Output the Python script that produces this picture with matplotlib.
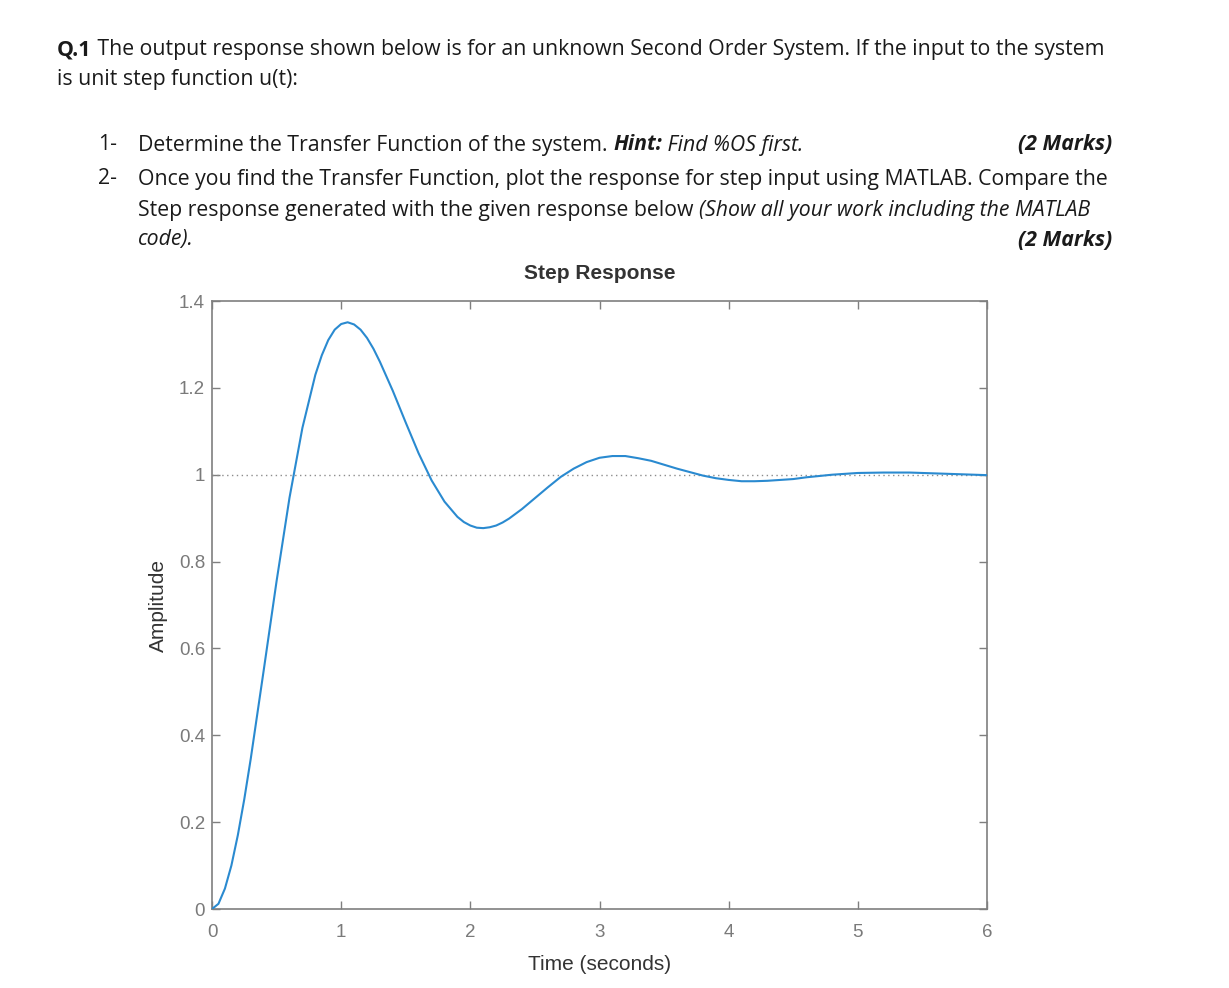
import matplotlib.pyplot as plt

# -----------------------------
# Data
# -----------------------------
time_s = [0.0, 0.05, 0.1, 0.15, 0.2, 0.25, 0.3, 0.4, 0.5, 0.6, 0.7, 0.8, 0.85, 0.9, 0.95,
          1.0, 1.05, 1.1, 1.15, 1.2, 1.25, 1.3, 1.4, 1.5, 1.6, 1.7, 1.8, 1.9, 1.95,
          2.0, 2.05, 2.1, 2.15, 2.2, 2.25, 2.3, 2.4, 2.5, 2.6, 2.7, 2.8, 2.9,
          3.0, 3.05, 3.1, 3.15, 3.2, 3.3, 3.4, 3.5, 3.6, 3.7, 3.8, 3.9,
          4.0, 4.1, 4.2, 4.3, 4.4, 4.5, 4.6, 4.7, 4.8, 4.9,
          5.0, 5.2, 5.4, 5.6, 5.8, 6.0]
amplitude = [0.000, 0.012, 0.047, 0.100, 0.170, 0.253, 0.346, 0.549, 0.755, 0.947, 1.108,
             1.230, 1.275, 1.310, 1.334,
             1.347, 1.351, 1.346, 1.334, 1.315, 1.290, 1.260, 1.193, 1.120, 1.049, 0.987,
             0.938, 0.903, 0.891,
             0.883, 0.878, 0.877, 0.879, 0.883, 0.890, 0.899, 0.921, 0.946, 0.971, 0.995,
             1.014, 1.029,
             1.039, 1.041, 1.043, 1.043, 1.043, 1.038, 1.032, 1.023, 1.014, 1.006, 0.998,
             0.992,
             0.988, 0.985, 0.985, 0.986, 0.988, 0.990, 0.994, 0.997, 1.000, 1.002,
             1.004, 1.005, 1.005, 1.003, 1.001, 0.999]
steady_state = 1.0

x_ticks = [0, 1, 2, 3, 4, 5, 6]
y_ticks = [0, 0.2, 0.4, 0.6, 0.8, 1.0, 1.2, 1.4]
y_tick_labels = ["0", "0.2", "0.4", "0.6", "0.8", "1", "1.2", "1.4"]

# -----------------------------
# Figure and question text
# -----------------------------
fig = plt.figure(figsize=(12.29, 9.88), dpi=100)
W, H = 1229, 988
renderer = fig.canvas.get_renderer()
FS = 15.3
INK = "#1a1a1a"

def fx(px):
    return px / W

def fy(py):
    return 1 - py / H

def runs(x_px, y_px, parts):
    # write text pieces one after another on one line
    x = x_px
    for txt, weight, style in parts:
        t = fig.text(fx(x), fy(y_px), txt, family="Open Sans", fontsize=FS,
                     weight=weight, style=style, color=INK, va="center")
        x = t.get_window_extent(renderer).x1

def right(x_px, y_px, txt, weight="normal", style="normal"):
    fig.text(fx(x_px), fy(y_px), txt, family="Open Sans", fontsize=FS, weight=weight,
             style=style, color=INK, va="center", ha="right")

N, B, I = "normal", "bold", "italic"
runs(57, 50, [("Q.1", B, N),
              (" The output response shown below is for an unknown Second Order System. "
               "If the input to the system", N, N)])
runs(57, 80, [("is unit step function u(t):", N, N)])

runs(98, 145, [("1-", N, N)])
runs(98, 179, [("2-", N, N)])
runs(138, 145, [("Determine the Transfer Function of the system. ", N, N),
                ("Hint:", B, I), (" Find %OS first.", N, I)])
right(1112, 145, "(2 Marks)", B, I)
runs(138, 179, [("Once you find the Transfer Function, plot the response for step input "
                 "using MATLAB. Compare the", N, N)])
runs(138, 210, [("Step response generated with the given response below ", N, N),
                ("(Show all your work including the MATLAB", N, I)])
runs(138, 240, [("code).", N, I)])
right(1112, 240, "(2 Marks)", B, I)

# -----------------------------
# Step response axes (MATLAB look)
# -----------------------------
ax = fig.add_axes([fx(212), fy(909), fx(987 - 212), (909 - 301) / H])
ax.plot(time_s, amplitude, color="#2a8ad0", lw=1.5, zorder=3)
ax.axhline(steady_state, color="#8c8c8c", lw=1.0, ls=(0, (1, 2.5)), zorder=2)

ax.set_xlim(0, 6)
ax.set_ylim(0, 1.4)
ax.set_xticks(x_ticks)
ax.set_yticks(y_ticks)
ax.set_yticklabels(y_tick_labels)

gray = "#7f7f7f"
for sp in ax.spines.values():
    sp.set_color(gray)
    sp.set_linewidth(1.2)
ax.tick_params(direction="in", length=6, width=1.0, color=gray, labelcolor="#7a7a7a",
               labelsize=13.5, top=True, right=True, pad=5)
ax.tick_params(axis="x", pad=11)
for lab in ax.get_xticklabels() + ax.get_yticklabels():
    lab.set_family("Liberation Sans")

ax.set_title("Step Response", family="Liberation Sans", fontsize=15, weight="bold",
             color="#333333", pad=16)
ax.set_xlabel("Time (seconds)", family="Liberation Sans", fontsize=15, color="#333333",
              labelpad=10)
ax.set_ylabel("Amplitude", family="Liberation Sans", fontsize=15, color="#333333",
              labelpad=8)

plt.savefig("out.png", dpi=100)
